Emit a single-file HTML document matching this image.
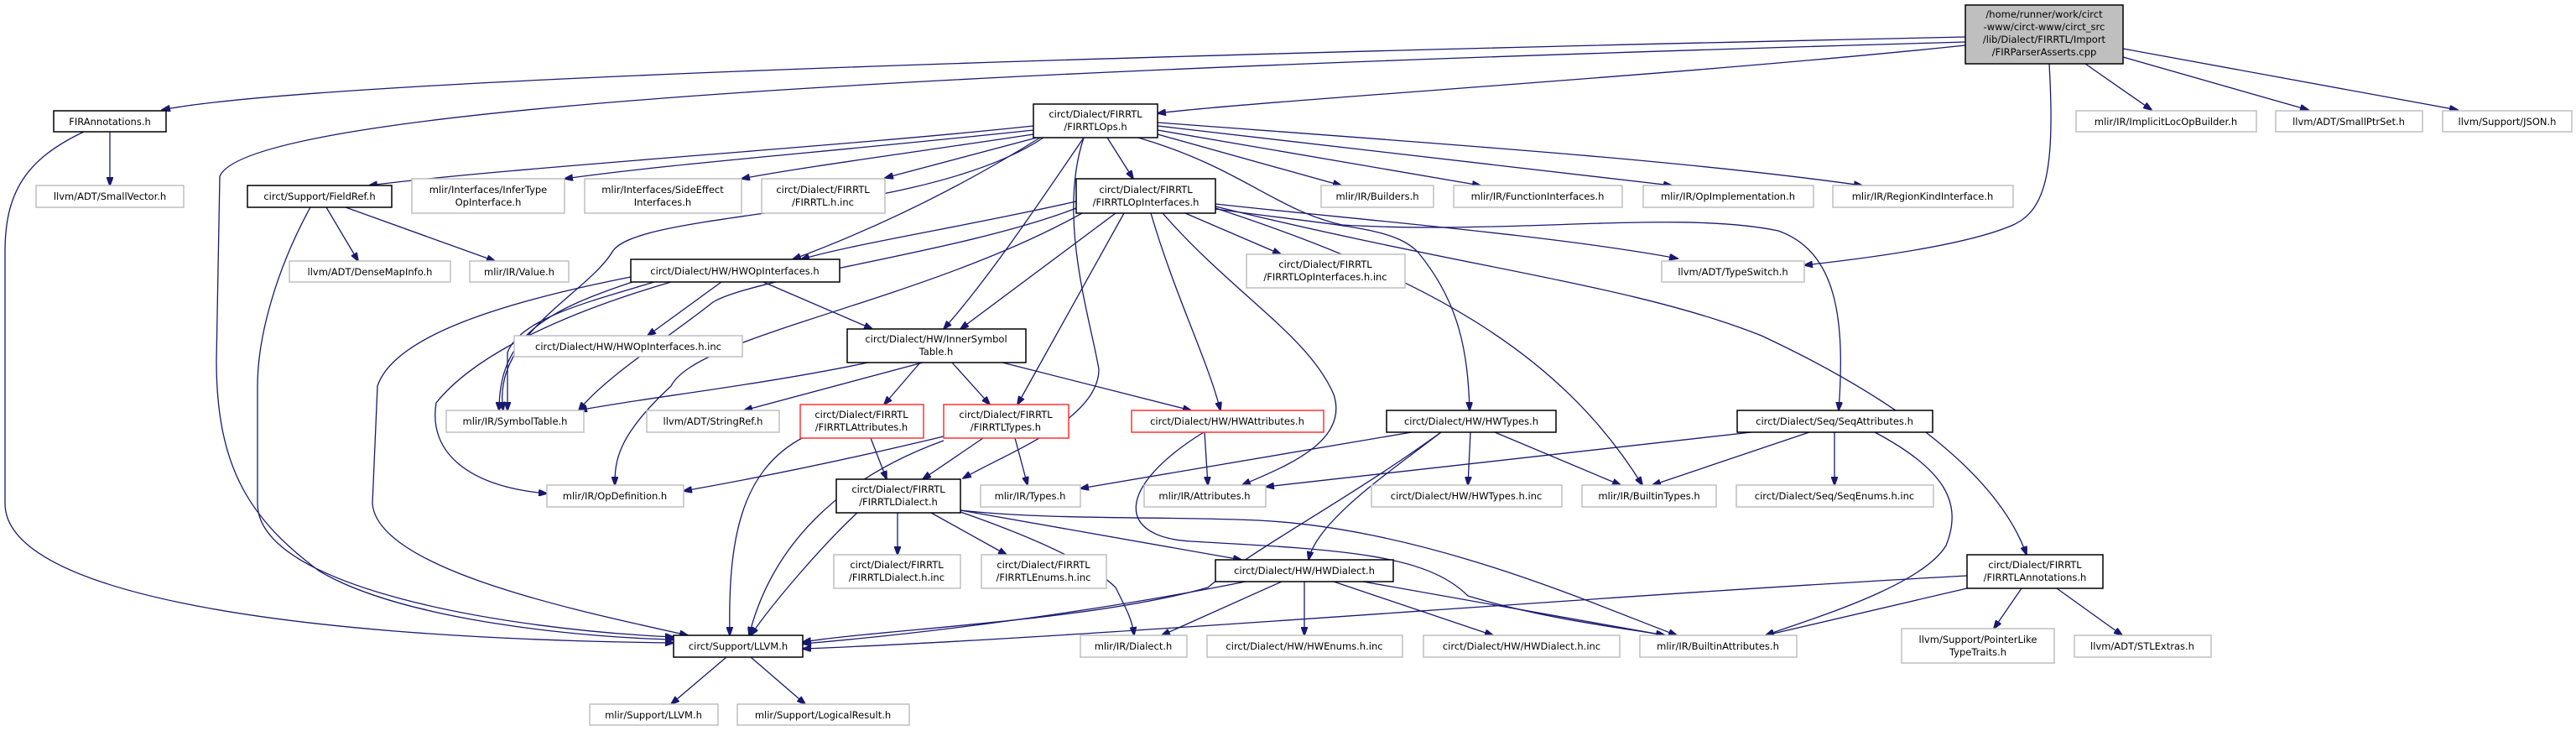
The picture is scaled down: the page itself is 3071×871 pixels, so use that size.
<!DOCTYPE html>
<html><head><meta charset="utf-8"><style>
html,body{margin:0;padding:0;background:#fff;}
svg{display:block;}
text{font-family:"DejaVu Sans","Liberation Sans",sans-serif;font-size:11.5px;fill:#000;text-anchor:middle;}
.e{fill:none;stroke:#191970;stroke-width:1.3;marker-end:url(#a);}
.b{fill:#fff;stroke:#000;stroke-width:1.5;}
.g{fill:#fff;stroke:#bfbfbf;stroke-width:1.5;}
.r{fill:#fff;stroke:#ff3333;stroke-width:1.5;}
</style></head><body>
<svg width="3071" height="871" viewBox="0 0 3071 871" xmlns="http://www.w3.org/2000/svg">
<defs><marker id="a" markerWidth="11" markerHeight="8" refX="10" refY="4" orient="auto" markerUnits="userSpaceOnUse"><path d="M0,0 L11,4 L0,8 z" fill="#191970" stroke="#191970"/></marker></defs>
<g>
<path class="e" d="M2343,44 C1600,60 400,90 193,131"/>
<path class="e" d="M2343,50 C1300,80 300,120 262,210 L258,430 C258,560 300,620 380,680 C480,740 700,760 803,762"/>
<path class="e" d="M2343,54 C2000,90 1500,120 1380,135"/>
<path class="e" d="M2486,76 L2565,131"/>
<path class="e" d="M2531,68 L2752,131"/>
<path class="e" d="M2531,58 L2930,131"/>
<path class="e" d="M2443,76 C2450,200 2440,250 2400,268 C2350,290 2250,305 2151,316"/>
<path class="e" d="M131,157 L131,221"/>
<path class="e" d="M100,157 C30,190 6,230 6,300 L6,600 C6,700 300,760 803,766"/>
<path class="e" d="M389,247 L427,311"/>
<path class="e" d="M412,247 L590,311"/>
<path class="e" d="M370,247 C330,320 307,400 307,460 L307,600 C307,700 600,750 803,759"/>
<path class="e" d="M1232,150 C1000,175 600,200 440,221"/>
<path class="e" d="M1232,155 C1000,180 800,195 673,213"/>
<path class="e" d="M1232,160 C1100,180 950,200 884,213"/>
<path class="e" d="M1236,164 L1055,212"/>
<path class="e" d="M1240,164 C1150,220 1050,270 945,309"/>
<path class="e" d="M1244,164 C1100,260 760,250 730,300 C700,350 585,400 600,489"/>
<path class="e" d="M1292,164 C1240,240 1180,330 1125,392"/>
<path class="e" d="M1320,164 L1351,213"/>
<path class="e" d="M1380,160 L1599,221"/>
<path class="e" d="M1380,155 L1765,221"/>
<path class="e" d="M1380,150 L1993,221"/>
<path class="e" d="M1380,146 C1700,170 2000,190 2220,221"/>
<path class="e" d="M1292,164 C1260,260 1300,380 1310,440 C1310,500 1200,540 1148,570"/>
<path class="e" d="M1357,164 C1480,200 1520,250 1600,268 C1800,280 2000,250 2120,275 C2190,300 2200,380 2192,489"/>
<path class="e" d="M1449,248 C1700,330 1860,420 1958,578"/>
<path class="e" d="M1449,246 C1750,320 1950,340 2100,400 C2250,470 2380,560 2416,661"/>
<path class="e" d="M1413,254 L1527,303"/>
<path class="e" d="M1449,243 C1600,260 1850,280 2000,308"/>
<path class="e" d="M1449,249 C1600,270 1660,270 1690,300 C1740,360 1750,420 1752,489"/>
<path class="e" d="M1283,240 C1150,270 1020,290 955,309"/>
<path class="e" d="M1283,248 C1150,300 900,330 850,360 C800,400 720,450 690,489"/>
<path class="e" d="M1330,254 L1145,392"/>
<path class="e" d="M1340,254 L1213,482"/>
<path class="e" d="M1372,254 C1400,350 1440,430 1455,489"/>
<path class="e" d="M1386,254 C1470,350 1560,400 1590,470 C1610,530 1520,560 1481,578"/>
<path class="e" d="M1290,254 C1100,360 830,400 800,460 C735,520 733,550 733,578"/>
<path class="e" d="M860,336 L772,400"/>
<path class="e" d="M910,336 L1040,392"/>
<path class="e" d="M780,336 C700,360 620,380 605,420 L605,489"/>
<path class="e" d="M760,334 C650,370 595,400 595,489"/>
<path class="e" d="M800,336 C650,380 560,430 520,480 C510,540 560,580 652,588"/>
<path class="e" d="M752,330 C600,360 470,400 450,460 L444,600 C450,680 700,730 820,757"/>
<path class="e" d="M1035,432 C900,460 760,475 690,489"/>
<path class="e" d="M1100,432 L887,489"/>
<path class="e" d="M1097,432 L1054,482"/>
<path class="e" d="M1135,432 L1180,482"/>
<path class="e" d="M1195,432 L1420,489"/>
<path class="e" d="M1038,522 L1057,571"/>
<path class="e" d="M960,520 C880,560 868,650 870,757"/>
<path class="e" d="M1172,522 L1100,571"/>
<path class="e" d="M1210,522 L1225,578"/>
<path class="e" d="M1125,520 C1000,550 900,570 815,585"/>
<path class="e" d="M1125,525 C1000,570 920,650 893,757"/>
<path class="e" d="M1436,515 L1440,578"/>
<path class="e" d="M1435,515 C1330,580 1330,640 1420,645 C1600,655 1700,660 1750,710 C1850,740 1950,750 1984,757"/>
<path class="e" d="M1683,515 L1288,582"/>
<path class="e" d="M1753,515 L1750,578"/>
<path class="e" d="M1782,515 L1932,578"/>
<path class="e" d="M1718,515 C1660,560 1570,620 1560,667"/>
<path class="e" d="M1718,515 C1600,600 1500,650 1440,700 C1300,740 1050,750 957,765"/>
<path class="e" d="M2088,515 L1509,580"/>
<path class="e" d="M2157,515 L1970,578"/>
<path class="e" d="M2187,515 L2187,578"/>
<path class="e" d="M2235,515 C2320,560 2340,600 2320,650 C2290,700 2150,740 2105,757"/>
<path class="e" d="M1022,611 C980,650 920,720 895,757"/>
<path class="e" d="M1070,611 L1070,661"/>
<path class="e" d="M1110,611 L1200,661"/>
<path class="e" d="M1145,610 C1260,650 1310,680 1330,700 C1345,730 1350,740 1352,757"/>
<path class="e" d="M1145,608 L1480,667"/>
<path class="e" d="M1145,608 C1250,620 1400,615 1500,620 C1700,630 1900,720 1999,757"/>
<path class="e" d="M1485,693 C1300,730 1100,755 957,767"/>
<path class="e" d="M1528,693 L1385,757"/>
<path class="e" d="M1555,693 L1555,757"/>
<path class="e" d="M1590,693 L1780,757"/>
<path class="e" d="M1625,693 L1985,757"/>
<path class="e" d="M2345,686 C1900,710 1300,760 957,773"/>
<path class="e" d="M2345,701 L2105,757"/>
<path class="e" d="M2410,701 L2377,749"/>
<path class="e" d="M2452,701 L2530,757"/>
<path class="e" d="M866,783 L800,839"/>
<path class="e" d="M895,783 L960,839"/>
</g>
<g>
<rect x="2343" y="6" width="188" height="70" fill="#bfbfbf" stroke="#000" stroke-width="1.5"/>
<text x="2437" y="21">/home/runner/work/circt</text><text x="2437" y="36">-www/circt-www/circt_src</text><text x="2437" y="51">/lib/Dialect/FIRRTL/Import</text><text x="2437" y="66">/FIRParserAsserts.cpp</text>

<rect class="b" x="64" y="132" width="134" height="25"/><text x="131" y="149">FIRAnnotations.h</text>
<rect class="g" x="43" y="221" width="176" height="26"/><text x="131" y="238">llvm/ADT/SmallVector.h</text>
<rect class="b" x="295" y="221" width="172" height="26"/><text x="381" y="238">circt/Support/FieldRef.h</text>
<rect class="g" x="491" y="213" width="182" height="41"/><text x="582" y="230">mlir/Interfaces/InferType</text><text x="582" y="245">OpInterface.h</text>
<rect class="g" x="697" y="213" width="187" height="41"/><text x="790" y="230">mlir/Interfaces/SideEffect</text><text x="790" y="245">Interfaces.h</text>
<rect class="g" x="908" y="213" width="147" height="41"/><text x="981" y="230">circt/Dialect/FIRRTL</text><text x="981" y="245">/FIRRTL.h.inc</text>
<rect class="b" x="1232" y="124" width="148" height="40"/><text x="1306" y="140">circt/Dialect/FIRRTL</text><text x="1306" y="155">/FIRRTLOps.h</text>
<rect class="g" x="2475" y="132" width="215" height="25"/><text x="2582" y="149">mlir/IR/ImplicitLocOpBuilder.h</text>
<rect class="g" x="2713" y="132" width="175" height="25"/><text x="2800" y="149">llvm/ADT/SmallPtrSet.h</text>
<rect class="g" x="2912" y="132" width="154" height="25"/><text x="2989" y="149">llvm/Support/JSON.h</text>
<rect class="b" x="1283" y="213" width="166" height="41"/><text x="1366" y="230">circt/Dialect/FIRRTL</text><text x="1366" y="245">/FIRRTLOpInterfaces.h</text>
<rect class="g" x="1575" y="221" width="134" height="26"/><text x="1642" y="238">mlir/IR/Builders.h</text>
<rect class="g" x="1733" y="221" width="201" height="26"/><text x="1833" y="238">mlir/IR/FunctionInterfaces.h</text>
<rect class="g" x="1959" y="221" width="203" height="26"/><text x="2060" y="238">mlir/IR/OpImplementation.h</text>
<rect class="g" x="2185" y="221" width="215" height="26"/><text x="2292" y="238">mlir/IR/RegionKindInterface.h</text>
<rect class="g" x="345" y="311" width="192" height="25"/><text x="441" y="328">llvm/ADT/DenseMapInfo.h</text>
<rect class="g" x="560" y="311" width="118" height="25"/><text x="619" y="328">mlir/IR/Value.h</text>
<rect class="b" x="752" y="309" width="249" height="27"/><text x="876" y="327">circt/Dialect/HW/HWOpInterfaces.h</text>
<rect class="g" x="1486" y="303" width="189" height="40"/><text x="1580" y="319">circt/Dialect/FIRRTL</text><text x="1580" y="334">/FIRRTLOpInterfaces.h.inc</text>
<rect class="g" x="1981" y="311" width="170" height="25"/><text x="2066" y="328">llvm/ADT/TypeSwitch.h</text>
<rect class="g" x="613" y="400" width="272" height="25"/><text x="749" y="417">circt/Dialect/HW/HWOpInterfaces.h.inc</text>
<rect class="b" x="1010" y="392" width="213" height="40"/><text x="1116" y="408">circt/Dialect/HW/InnerSymbol</text><text x="1116" y="423">Table.h</text>
<rect class="g" x="532" y="489" width="164" height="26"/><text x="614" y="506">mlir/IR/SymbolTable.h</text>
<rect class="g" x="771" y="489" width="158" height="26"/><text x="850" y="506">llvm/ADT/StringRef.h</text>
<rect class="r" x="954" y="482" width="147" height="40"/><text x="1027" y="498">circt/Dialect/FIRRTL</text><text x="1027" y="513">/FIRRTLAttributes.h</text>
<rect class="r" x="1125" y="482" width="149" height="40"/><text x="1199" y="498">circt/Dialect/FIRRTL</text><text x="1199" y="513">/FIRRTLTypes.h</text>
<rect class="r" x="1349" y="489" width="229" height="26"/><text x="1463" y="506">circt/Dialect/HW/HWAttributes.h</text>
<rect class="b" x="1653" y="489" width="202" height="26"/><text x="1754" y="506">circt/Dialect/HW/HWTypes.h</text>
<rect class="b" x="2071" y="489" width="233" height="26"/><text x="2187" y="506">circt/Dialect/Seq/SeqAttributes.h</text>
<rect class="b" x="997" y="571" width="148" height="40"/><text x="1071" y="587">circt/Dialect/FIRRTL</text><text x="1071" y="602">/FIRRTLDialect.h</text>
<rect class="g" x="652" y="578" width="163" height="26"/><text x="733" y="595">mlir/IR/OpDefinition.h</text>
<rect class="g" x="1169" y="578" width="119" height="26"/><text x="1228" y="595">mlir/IR/Types.h</text>
<rect class="g" x="1364" y="578" width="145" height="26"/><text x="1436" y="595">mlir/IR/Attributes.h</text>
<rect class="g" x="1635" y="578" width="227" height="26"/><text x="1748" y="595">circt/Dialect/HW/HWTypes.h.inc</text>
<rect class="g" x="1886" y="578" width="160" height="26"/><text x="1966" y="595">mlir/IR/BuiltinTypes.h</text>
<rect class="g" x="2070" y="578" width="235" height="26"/><text x="2187" y="595">circt/Dialect/Seq/SeqEnums.h.inc</text>
<rect class="g" x="994" y="661" width="151" height="40"/><text x="1069" y="677">circt/Dialect/FIRRTL</text><text x="1069" y="692">/FIRRTLDialect.h.inc</text>
<rect class="g" x="1170" y="661" width="149" height="40"/><text x="1244" y="677">circt/Dialect/FIRRTL</text><text x="1244" y="692">/FIRRTLEnums.h.inc</text>
<rect class="b" x="1449" y="667" width="212" height="26"/><text x="1555" y="684">circt/Dialect/HW/HWDialect.h</text>
<rect class="b" x="2345" y="661" width="162" height="40"/><text x="2426" y="677">circt/Dialect/FIRRTL</text><text x="2426" y="692">/FIRRTLAnnotations.h</text>
<rect class="b" x="803" y="757" width="154" height="26"/><text x="880" y="774">circt/Support/LLVM.h</text>
<rect class="g" x="1288" y="757" width="127" height="26"/><text x="1351" y="774">mlir/IR/Dialect.h</text>
<rect class="g" x="1439" y="757" width="233" height="26"/><text x="1555" y="774">circt/Dialect/HW/HWEnums.h.inc</text>
<rect class="g" x="1697" y="757" width="234" height="26"/><text x="1814" y="774">circt/Dialect/HW/HWDialect.h.inc</text>
<rect class="g" x="1955" y="757" width="187" height="26"/><text x="2048" y="774">mlir/IR/BuiltinAttributes.h</text>
<rect class="g" x="2267" y="749" width="182" height="41"/><text x="2358" y="766">llvm/Support/PointerLike</text><text x="2358" y="781">TypeTraits.h</text>
<rect class="g" x="2473" y="757" width="163" height="26"/><text x="2554" y="774">llvm/ADT/STLExtras.h</text>
<rect class="g" x="703" y="839" width="153" height="25"/><text x="779" y="856">mlir/Support/LLVM.h</text>
<rect class="g" x="879" y="839" width="205" height="25"/><text x="981" y="856">mlir/Support/LogicalResult.h</text>
</g>
</svg>
</body></html>
